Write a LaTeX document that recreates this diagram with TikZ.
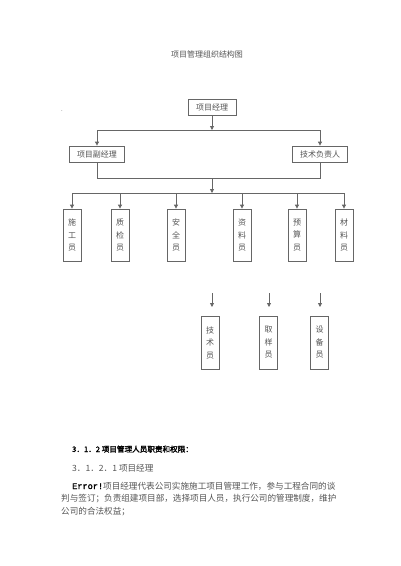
\documentclass[tikz,border=0pt]{standalone}
\usepackage{fontspec}
\setmainfont{Noto Sans CJK SC}[AutoFakeBold=2]
\newfontfamily\monob{Liberation Mono}[AutoFakeBold=2]
\usetikzlibrary{arrows.meta}
\definecolor{ink}{HTML}{555555}
\definecolor{lin}{HTML}{666666}
\begin{document}
\begin{tikzpicture}[x=1pt,y=-1pt,
  every node/.style={text=ink,font=\fontsize{8}{12.5}\selectfont},
  hbox/.style={draw=lin,line width=0.8pt,inner sep=0pt,minimum height=16pt},
  vbox/.style={draw=lin,line width=0.8pt,inner sep=0pt,minimum width=18pt,minimum height=52pt,align=center},
  ln/.style={draw=lin,line width=0.8pt},
  arr/.style={ln,-{Triangle[length=4pt,width=4pt]}},
  para/.style={anchor=base west,inner sep=0pt,font=\fontsize{8.6}{10}\selectfont}]
\useasboundingbox (0,0) rectangle (400,566);
\fill[white] (0,0) rectangle (400,566);
\node[inner sep=0pt] (title) at (207,54) {项目管理组织结构图};
\node[inner sep=0pt,font=\fontsize{6}{6}\selectfont] (dot) at (62,111) {.};
% top
\node[hbox,minimum width=48pt] (pm) at (212,107) {项目经理};
\node[hbox,minimum width=55pt] (dep) at (97,154) {项目副经理};
\node[hbox,minimum width=55pt] (tech) at (320,154) {技术负责人};
\coordinate (b1) at (212,130);
\coordinate (b2) at (212,178);
\coordinate (b3) at (212,193);
\draw[arr] (pm.south) -- (b1);
\draw[ln] (dep.north |- b1) -- (tech.north |- b1);
\draw[arr] (dep.north |- b1) -- (dep.north);
\draw[arr] (tech.north |- b1) -- (tech.north);
\draw[ln] (dep.south) -- (dep.south |- b2) -- (tech.south |- b2) -- (tech.south);
\draw[arr] (b2) -- (b3);
% staff row
\node[vbox] (s1) at (72,235) {施\\工\\员};
\node[vbox] (s2) at (120,235) {质\\检\\员};
\node[vbox] (s3) at (176,235) {安\\全\\员};
\node[vbox] (s4) at (242,235) {资\\料\\员};
\node[vbox] (s5) at (297,235) {预\\算\\员};
\node[vbox] (s6) at (344,235) {材\\料\\员};
\draw[ln] (s1.north |- b3) -- (s6.north |- b3);
\foreach \n in {s1,s2,s3,s4,s5,s6}{\draw[arr] (\n.north |- b3) -- (\n.north);}
% lower row
\node[vbox,minimum height=53pt] (t1) at (210,342.5) {技\\术\\员};
\node[vbox,minimum height=53pt] (t2) at (268.5,342.5) {取\\样\\员};
\node[vbox,minimum height=53pt] (t3) at (319.5,342.5) {设\\备\\员};
\coordinate (a1s) at (212,293); \coordinate (a1e) at (212,307);
\coordinate (a2s) at (269,293); \coordinate (a2e) at (269,307);
\coordinate (a3s) at (320,293); \coordinate (a3e) at (320,307);
\draw[arr] (a1s) -- (a1e);
\draw[arr] (a2s) -- (a2e);
\draw[arr] (a3s) -- (a3e);
% text
\node[para,text=black,font=\fontsize{7.6}{10}\selectfont] (h1) at (72,452) {\bfseries 3．1．2 项目管理人员职责和权限：};
\node[para] (h2) at (72,471) {3．1．2．1 项目经理};
\node[para] (p1) at (72,489) {{\monob\bfseries\color{black}Error!}项目经理代表公司实施施工项目管理工作，参与工程合同的谈};
\node[para] (p2) at (61,501) {判与签订；负责组建项目部，选择项目人员，执行公司的管理制度，维护};
\node[para] (p3) at (61,514) {公司的合法权益；};
\end{tikzpicture}
\end{document}
